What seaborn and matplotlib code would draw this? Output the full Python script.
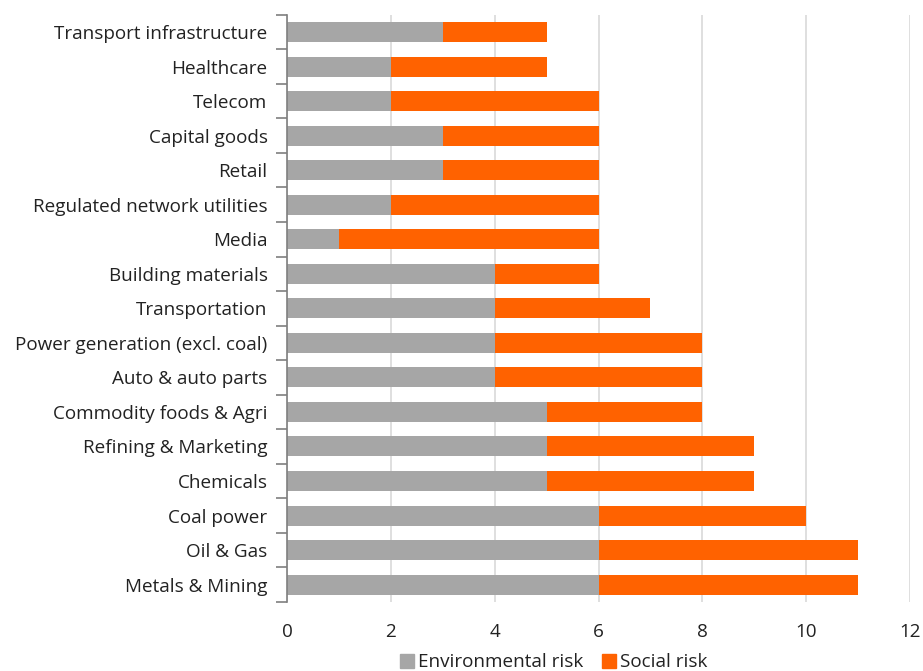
import matplotlib
matplotlib.use("Agg")
import matplotlib.pyplot as plt
import seaborn as sns
import pandas as pd
import numpy as np
from matplotlib.patches import Patch

sectors = [
    "Transport infrastructure", "Healthcare", "Telecom", "Capital goods", "Retail",
    "Regulated network utilities", "Media", "Building materials", "Transportation",
    "Power generation (excl. coal)", "Auto & auto parts", "Commodity foods & Agri",
    "Refining & Marketing", "Chemicals", "Coal power", "Oil & Gas", "Metals & Mining",
]
environmental_risk = [3, 2, 2, 3, 3, 2, 1, 4, 4, 4, 4, 5, 5, 5, 6, 6, 6]
social_risk = [2, 3, 4, 3, 3, 4, 5, 2, 3, 4, 4, 3, 4, 4, 4, 5, 5]

GREY = "#A6A6A6"
ORANGE = "#FF6200"
FS = 13.6

df = pd.DataFrame({
    "sector": sectors,
    "env": environmental_risk,
    "social": social_risk,
})
df["total"] = df["env"] + df["social"]

sns.set_style("white")
plt.rcParams["font.family"] = ["Open Sans", "DejaVu Sans"]

fig = plt.figure(figsize=(9.23, 6.71), dpi=100)
ax = fig.add_axes([0.311, 0.103, 0.675, 0.875])

# stacked bars: full length in orange, environmental part over it in grey
sns.barplot(data=df, y="sector", x="total", color=ORANGE, orient="h",
            width=0.58, ax=ax, saturation=1, linewidth=0)
sns.barplot(data=df, y="sector", x="env", color=GREY, orient="h",
            width=0.58, ax=ax, saturation=1, linewidth=0)

ax.set_xlim(0, 12)
ax.set_ylim(len(sectors) - 0.5, -0.5)
ax.set_xticks(np.arange(0, 13, 2))
ax.set_xlabel("")
ax.set_ylabel("")

ax.grid(axis="x", color="#D9D9D9", linewidth=1.2)
ax.set_axisbelow(True)

for s in ["top", "right", "bottom"]:
    ax.spines[s].set_visible(False)
ax.spines["left"].set_color("#7F7F7F")
ax.spines["left"].set_linewidth(1.2)

# category separators on the value axis
ax.set_yticks(np.arange(-0.5, len(sectors), 1), minor=True)
ax.tick_params(axis="y", which="minor", length=8, width=1.2, color="#7F7F7F", left=True)
ax.tick_params(axis="y", which="major", length=0, pad=14, labelsize=FS, labelcolor="#222222")
ax.tick_params(axis="x", length=0, pad=15, labelsize=FS, labelcolor="#222222")

handles = [Patch(color=GREY, label="Environmental risk"),
           Patch(color=ORANGE, label="Social risk")]
fig.legend(handles=handles, loc="lower center", bbox_to_anchor=(0.6, -0.026), ncol=2,
           frameon=False, fontsize=FS, handlelength=0.75, handleheight=0.75,
           handletextpad=0.2, columnspacing=1.0, labelcolor="#222222")

fig.savefig("out.png", dpi=100)
